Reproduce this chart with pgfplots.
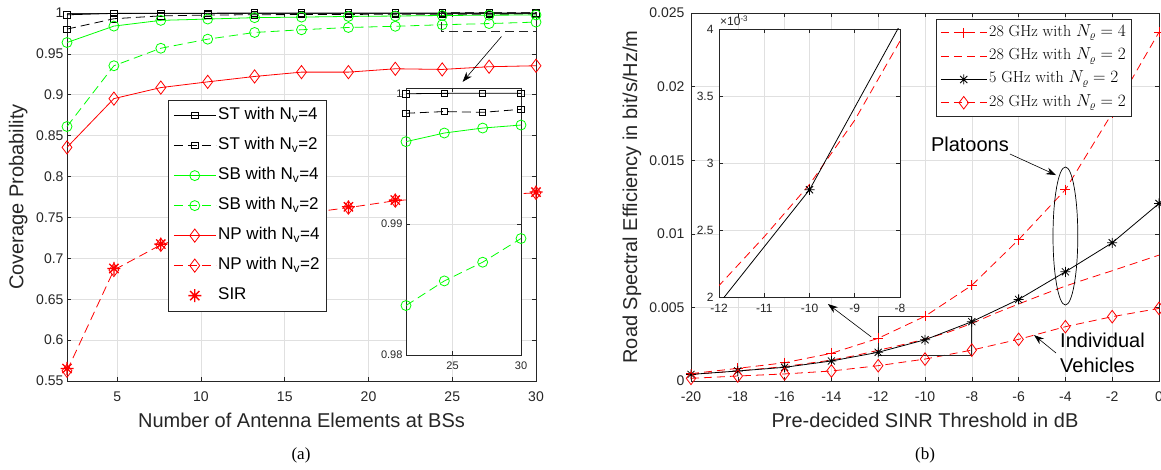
\documentclass[border=0pt]{standalone}
\usepackage{pgfplots}
\pgfplotsset{compat=1.18}
\usepackage{fontspec}
\usetikzlibrary{arrows.meta}
\newfontfamily\arial{Liberation Sans}
\newfontfamily\tnr{Liberation Serif}
\definecolor{axgray}{rgb}{0.15,0.15,0.15}
\definecolor{gridgray}{rgb}{0.88,0.88,0.88}
\definecolor{mgreen}{rgb}{0,1,0}

% matlab-like asterisk (+ and x together)
\pgfdeclareplotmark{mstar}{%
  \pgfpathmoveto{\pgfqpoint{-\pgfplotmarksize}{0pt}}\pgfpathlineto{\pgfqpoint{\pgfplotmarksize}{0pt}}%
  \pgfpathmoveto{\pgfqpoint{0pt}{-\pgfplotmarksize}}\pgfpathlineto{\pgfqpoint{0pt}{\pgfplotmarksize}}%
  \pgfpathmoveto{\pgfqpoint{-.707\pgfplotmarksize}{-.707\pgfplotmarksize}}\pgfpathlineto{\pgfqpoint{.707\pgfplotmarksize}{.707\pgfplotmarksize}}%
  \pgfpathmoveto{\pgfqpoint{-.707\pgfplotmarksize}{.707\pgfplotmarksize}}\pgfpathlineto{\pgfqpoint{.707\pgfplotmarksize}{-.707\pgfplotmarksize}}%
  \pgfusepathqstroke}

\pgfplotsset{
  mat/.style={scale only axis, anchor=south west, clip=false,
    axis line style={draw=axgray, line width=0.7pt},
    every tick/.style={draw=axgray, line width=0.6pt},
    tick align=inside, major tick length=4pt,
    xtick pos=both, ytick pos=both,
    grid=major, major grid style={draw=gridgray, line width=0.6pt},
    ticklabel style={font=\arial\fontsize{14}{16}\selectfont, text=axgray},
    /pgf/number format/assume math mode=true,
    scaled ticks=false,
    label style={font=\arial\fontsize{20}{24}\selectfont, text=axgray},
  },
  dsh/.style={dash pattern=on 9pt off 5pt, mark options={solid}},
  rdsh/.style={color=red, draw=red, dash pattern=on 8pt off 5pt, mark options={solid, draw=red}},
}

\begin{document}
\begin{tikzpicture}[x=1pt,y=1pt]
\useasboundingbox (0,0) rectangle (1161,469);

% ---------------- (a) main ----------------
\begin{axis}[mat, at={(67pt,88pt)}, width=469pt, height=368pt,
  xmin=2, xmax=30, ymin=0.55, ymax=1,
  xtick={5,10,15,20,25,30},
  ytick={0.55,0.6,0.65,0.7,0.75,0.8,0.85,0.9,0.95,1},
  yticklabels={0.55,0.6,0.65,0.7,0.75,0.8,0.85,0.9,0.95,1},
  xticklabel style={yshift=-7pt},
  xlabel={Number of Antenna Elements at BSs},
  ylabel={Coverage Probability},
  xlabel style={at={(axis description cs:0.5,-0.125)}, anchor=base},
  ylabel style={at={(axis description cs:-0.0928,0.5)}, anchor=base},
  legend image code/.code={\draw[mark repeat=2,mark phase=2,#1] plot coordinates {(0pt,0pt) (21pt,0pt) (42pt,0pt)};},
  legend cell align=left,
  legend style={at={(0.2154,0.7636)}, anchor=north west, draw=axgray, fill=white,
    line width=0.7pt, font=\arial\fontsize{17}{20}\selectfont, text=black,
    row sep=9.5pt, inner sep=5pt,
    nodes={inner sep=2pt, text height=12.5pt, text depth=4pt}},
]
\addplot[black, line width=0.8pt, mark=square, mark size=3.2pt] coordinates {
 (2,0.9978) (4.8,0.9995) (7.6,0.9997) (10.4,0.9998) (13.2,0.9999) (16,0.9999) (18.8,0.99995) (21.6,0.99996) (24.4,0.99999) (27.2,1.0) (30,1.0)};
\addlegendentry{ST with N\textsubscript{v}=4}
\addplot[black, line width=0.8pt, dsh, mark=square, mark size=3.2pt] coordinates {
 (2,0.9803) (4.8,0.9930) (7.6,0.9965) (10.4,0.9975) (13.2,0.9979) (16,0.9981) (18.8,0.9983) (21.6,0.99847) (24.4,0.99860) (27.2,0.99854) (30,0.99877)};
\addlegendentry{ST with N\textsubscript{v}=2}
\addplot[mgreen, line width=0.8pt, mark=o, mark size=5pt] coordinates {
 (2,0.9639) (4.8,0.9840) (7.6,0.9910) (10.4,0.9926) (13.2,0.9943) (16,0.9950) (18.8,0.9958) (21.6,0.99630) (24.4,0.99696) (27.2,0.99734) (30,0.99757)};
\addlegendentry{SB with N\textsubscript{v}=4}
\addplot[mgreen, line width=0.8pt, dsh, mark=o, mark size=5pt] coordinates {
 (2,0.8612) (4.8,0.9355) (7.6,0.9569) (10.4,0.9680) (13.2,0.9762) (16,0.9795) (18.8,0.9823) (21.6,0.98378) (24.4,0.98566) (27.2,0.98709) (30,0.98890)};
\addlegendentry{SB with N\textsubscript{v}=2}
\addplot[red, line width=0.8pt, mark=diamond, mark size=6.6pt] coordinates {
 (2,0.8357) (4.8,0.8953) (7.6,0.9088) (10.4,0.9158) (13.2,0.9224) (16,0.9277) (18.8,0.9277) (21.6,0.9318) (24.4,0.9310) (27.2,0.9343) (30,0.9355)};
\addlegendentry{NP with N\textsubscript{v}=4}
\addplot[red, line width=0.8pt, dsh, mark=diamond, mark size=6.6pt] coordinates {
 (2,0.5625) (4.8,0.6857) (7.6,0.7165) (10.4,0.7345) (13.2,0.7455) (16,0.7545) (18.8,0.7620) (21.6,0.7705) (24.4,0.7745) (27.2,0.7775) (30,0.7800)};
\addlegendentry{NP with N\textsubscript{v}=2}
\addplot[red, only marks, line width=1.3pt, mark=mstar, mark size=6.5pt] coordinates {
 (2,0.5653) (4.8,0.6876) (7.6,0.7174) (10.4,0.7350) (13.2,0.7460) (16,0.7550) (18.8,0.7630) (21.6,0.7712) (24.4,0.7750) (27.2,0.7780) (30,0.7810)};
\addlegendentry{SIR}
\draw[axgray, line width=1pt, dash pattern=on 9pt off 5pt] (axis cs:24.35,0.9775) rectangle (axis cs:30,1.0004);
\draw[black, line width=0.6pt, -{Stealth[length=10pt,width=7pt]}] (axis cs:27.94,0.9713) -- (axis cs:25.62,0.9158);
\end{axis}

% ---------------- (a) inset ----------------
\begin{axis}[mat, at={(406pt,114pt)}, width=115pt, height=267pt,
  axis background/.style={fill=white},
  xmin=21.6, xmax=30, ymin=0.98, ymax=1.0004,
  xtick={25,30}, ytick={0.98,0.99,1}, yticklabels={0.98,0.99,1},
  ticklabel style={font=\arial\fontsize{11}{13}\selectfont},
  xticklabel style={yshift=-3pt},
]
\addplot[black, line width=0.8pt, mark=square, mark size=3.2pt] coordinates {
 (21.6,0.99996) (24.4,0.99999) (27.2,1.0) (30,1.0)};
\addplot[black, line width=0.8pt, dsh, mark=square, mark size=3.2pt] coordinates {
 (21.6,0.99847) (24.4,0.99860) (27.2,0.99854) (30,0.99877)};
\addplot[mgreen, line width=0.8pt, mark=o, mark size=5pt] coordinates {
 (21.6,0.99630) (24.4,0.99696) (27.2,0.99734) (30,0.99757)};
\addplot[mgreen, line width=0.8pt, dsh, mark=o, mark size=5pt] coordinates {
 (21.6,0.98378) (24.4,0.98566) (27.2,0.98709) (30,0.98890)};
\end{axis}

% ---------------- (b) main ----------------
\begin{axis}[mat, at={(691pt,88pt)}, width=468pt, height=368pt,
  xmin=-20, xmax=0, ymin=0, ymax=0.025,
  xtick={-20,-18,-16,-14,-12,-10,-8,-6,-4,-2,0},
  xticklabels={-20,-18,-16,-14,-12,-10,-8,-6,-4,-2,0},
  ytick={0,0.005,0.01,0.015,0.02,0.025},
  yticklabels={0,0.005,0.01,0.015,0.02,0.025},
  xticklabel style={yshift=-7pt}, yticklabel style={xshift=-3pt},
  xlabel={Pre-decided SINR Threshold in dB},
  ylabel={Road Spectral Efficiency in bit/s/Hz/m},
  xlabel style={at={(axis description cs:0.5,-0.125)}, anchor=base},
  ylabel style={at={(axis description cs:-0.1154,0.5)}, anchor=base},
  legend image code/.code={\draw[mark repeat=2,mark phase=2,#1] plot coordinates {(0pt,0pt) (23pt,0pt) (46pt,0pt)};},
  legend cell align=left,
  legend style={at={(0.5235,0.9837)}, anchor=north west, draw=axgray, fill=white,
    line width=0.7pt, font=\fontsize{16}{19}\selectfont, text=black,
    row sep=4.3pt, inner sep=4pt,
    nodes={inner sep=2pt, text height=11pt, text depth=4pt}},
]
\addplot[rdsh, line width=0.8pt, mark=+, mark size=5pt] coordinates {
 (-20,0.0005) (-18,0.00086) (-16,0.00124) (-14,0.00188) (-12,0.0029) (-10,0.0044) (-8,0.0065) (-6,0.0096) (-4,0.0130) (-2,0.0182) (0,0.0237)};
\addlegendentry{28 GHz with $N_\varrho = 4$}
\addplot[rdsh, line width=0.8pt] coordinates {
 (-20,0.00045) (-18,0.00068) (-16,0.00098) (-14,0.00142) (-13,0.00172) (-12,0.002085) (-11,0.00245) (-10,0.00284) (-9,0.00332) (-8,0.00391) (-7,0.0046) (-6,0.00523) (-5,0.00585) (-4,0.00645) (-3,0.00698) (-2,0.00749) (-1,0.00802) (0,0.00855)};
\addlegendentry{28 GHz with $N_\varrho = 2$}
\addplot[black, line width=0.8pt, mark=mstar, mark size=5pt] coordinates {
 (-20,0.00045) (-18,0.00068) (-16,0.00093) (-14,0.00136) (-12,0.00195) (-10,0.0028) (-8,0.00403) (-6,0.00554) (-4,0.00742) (-2,0.00939) (0,0.01206)};
\addlegendentry{5 GHz with $N_\varrho = 2$}
\addplot[rdsh, line width=0.8pt, mark=diamond, mark size=6.3pt] coordinates {
 (-20,0.00018) (-18,0.00034) (-16,0.00048) (-14,0.00068) (-12,0.00104) (-10,0.00149) (-8,0.0021) (-6,0.00283) (-4,0.00369) (-2,0.00437) (0,0.00493)};
\addlegendentry{28 GHz with $N_\varrho = 2$}
% annotations
\draw[black, line width=0.7pt] (axis cs:-4,0.00985) ellipse [x radius=12.4pt, y radius=69pt];
\node[font=\arial\fontsize{20}{24}\selectfont, text=black] at (axis cs:-8.08,0.0161) {Platoons};
\draw[black, line width=0.6pt, -{Stealth[length=10pt,width=7pt]}] (axis cs:-6.37,0.01542) -- (axis cs:-4.40,0.01399);
\node[font=\arial\fontsize{20}{25}\selectfont, text=black, align=left, anchor=north west, inner sep=0pt] at (axis cs:-4.23,0.00326) {Individual\\Vehicles};
\draw[black, line width=0.6pt, -{Stealth[length=10pt,width=7pt]}] (axis cs:-4.40,0.0019) -- (axis cs:-5.34,0.00312);
\draw[axgray, line width=1pt] (axis cs:-12,0.00172) rectangle (axis cs:-8,0.00441);
\draw[black, line width=0.6pt, -{Stealth[length=10pt,width=7pt]}] (axis cs:-12.3,0.0030) -- (axis cs:-14.15,0.00523);
\end{axis}

% ---------------- (b) inset ----------------
\begin{axis}[mat, at={(719pt,172pt)}, width=181pt, height=268pt, clip=true,
  axis background/.style={fill=white},
  xmin=-12, xmax=-8, ymin=0.002, ymax=0.004,
  xtick={-12,-11,-10,-9,-8}, xticklabels={-12,-11,-10,-9,-8},
  ytick={0.002,0.0025,0.003,0.0035,0.004}, yticklabels={2,2.5,3,3.5,4},
  ticklabel style={font=\arial\fontsize{12}{14}\selectfont},
  xticklabel style={yshift=-4pt}, yticklabel style={xshift=-2pt},
]
\addplot[rdsh, line width=0.8pt] coordinates {
 (-13,0.00172) (-12,0.002085) (-11,0.00245) (-10,0.00284) (-9,0.00332) (-8,0.00391) (-7,0.0046)};
\addplot[black, line width=0.8pt, mark=mstar, mark size=5pt] coordinates {
 (-12,0.00195) (-10,0.0028) (-8,0.00403)};
\end{axis}
\node[anchor=south west, inner sep=0pt, font=\arial\fontsize{12}{14}\selectfont, text=axgray] at (720,443) {×10\textsuperscript{-3}};

% captions
\node[font=\tnr\fontsize{17}{20}\selectfont] at (301,14) {(a)};
\node[font=\tnr\fontsize{17}{20}\selectfont] at (925,14) {(b)};
\end{tikzpicture}
\end{document}
